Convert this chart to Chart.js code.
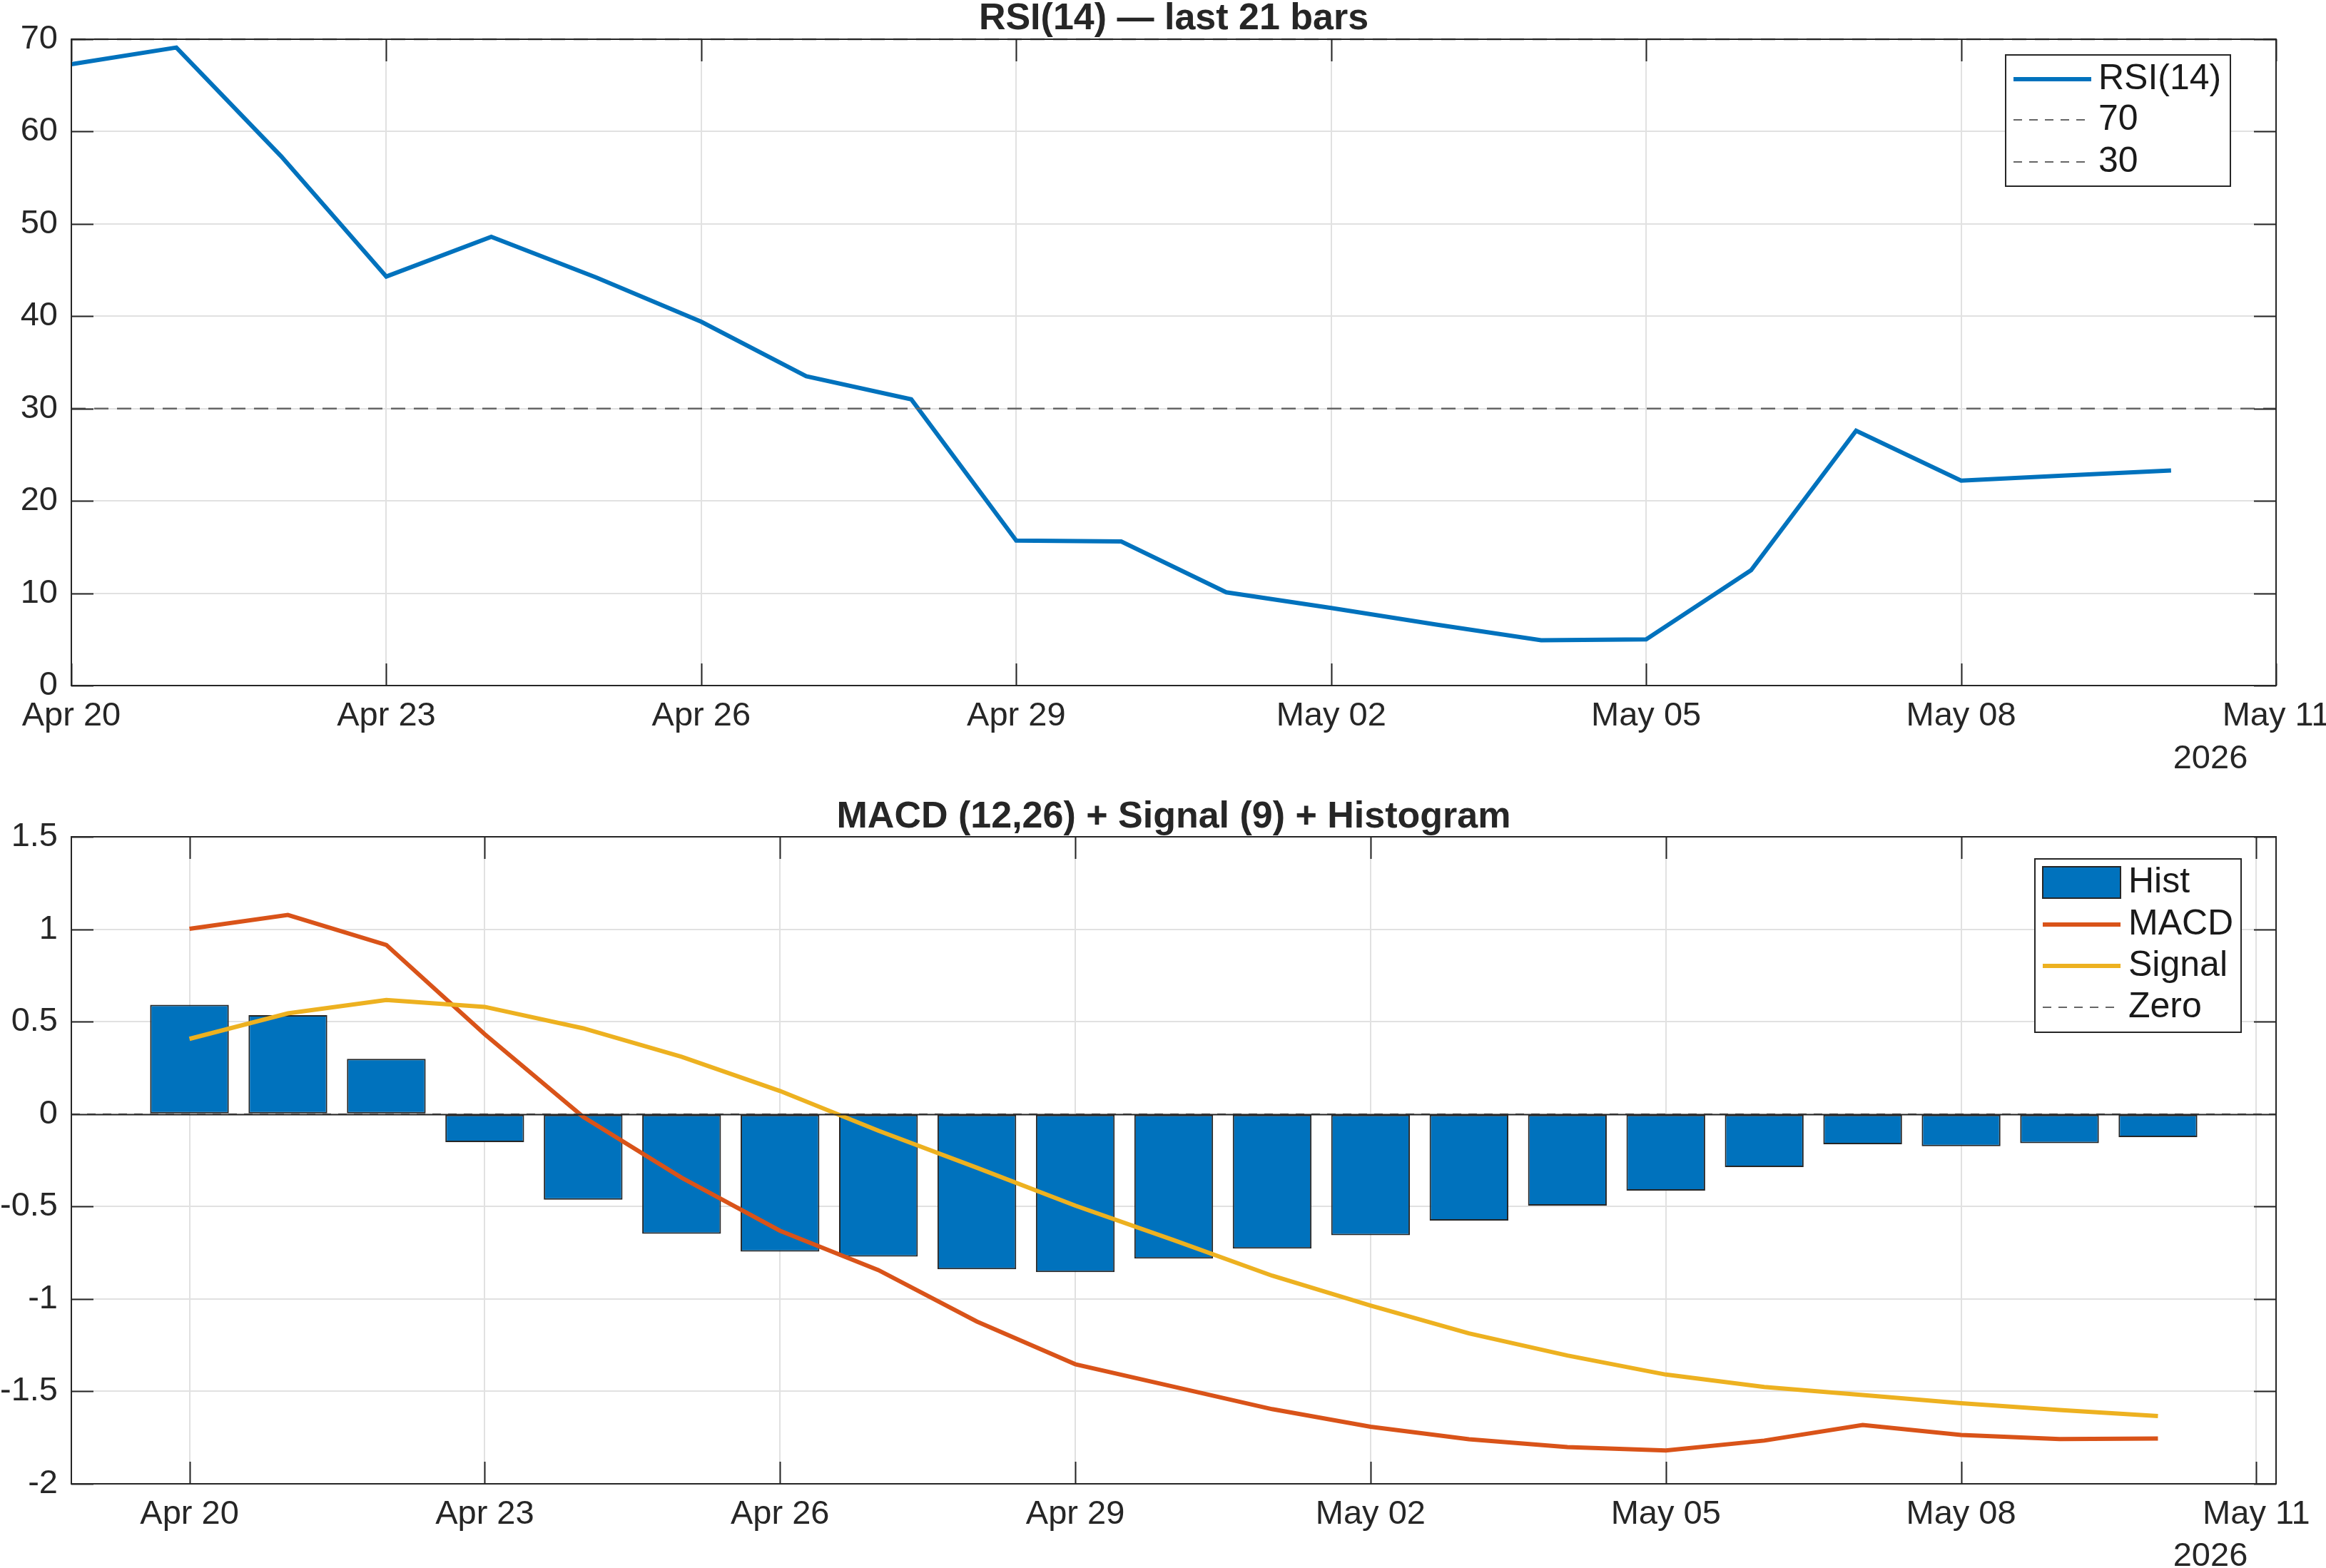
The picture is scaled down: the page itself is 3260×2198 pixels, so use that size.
<!DOCTYPE html>
<html>
<head>
<meta charset="utf-8">
<title>RSI / MACD</title>
<script src="https://cdn.jsdelivr.net/npm/chart.js@4.4.1/dist/chart.umd.min.js"></script>
<style>
  body { margin: 0; background: #fff; }
  canvas { position: absolute; left: 0; }
  #rsiChart { top: 0; }
  #macdChart { top: 1100px; }
</style>
</head>
<body>
<canvas id="rsiChart" width="3260" height="1100"></canvas>
<canvas id="macdChart" width="3260" height="1098"></canvas>
<script>
// ---- data (one entry per daily bar, Apr 20 .. May 10 2026) ----
const dates = ['Apr 20', 'Apr 21', 'Apr 22', 'Apr 23', 'Apr 24', 'Apr 25', 'Apr 26', 'Apr 27', 'Apr 28', 'Apr 29', 'Apr 30',
               'May 01', 'May 02', 'May 03', 'May 04', 'May 05', 'May 06', 'May 07', 'May 08', 'May 09', 'May 10'];
const tickDays = [0, 3, 6, 9, 12, 15, 18, 21];
const tickLabels = ['Apr 20', 'Apr 23', 'Apr 26', 'Apr 29', 'May 02', 'May 05', 'May 08', 'May 11'];
const yearLabel = '2026';

const rsiValues = [67.3, 69.1, 57.3, 44.3, 48.6, 44.2, 39.4, 33.5, 31.0, 15.7, 15.6,
                   10.1, 8.4, 6.6, 4.9, 5.0, 12.5, 27.6, 22.2, 22.75, 23.3];
const rsiLevels = [70, 30];
const rsiXRange = [0, 21];

const histValues = [0.591, 0.535, 0.299, -0.152, -0.463, -0.647, -0.744, -0.771, -0.839, -0.855, -0.782,
                    -0.728, -0.655, -0.576, -0.495, -0.414, -0.287, -0.163, -0.174, -0.157, -0.125];
const macdValues = [1.002, 1.077, 0.915, 0.432, -0.015, -0.344, -0.631, -0.844, -1.122, -1.353, -1.475,
                    -1.596, -1.691, -1.759, -1.801, -1.820, -1.766, -1.682, -1.736, -1.758, -1.755];
const signalValues = [0.407, 0.545, 0.617, 0.580, 0.464, 0.310, 0.125, -0.090, -0.290, -0.495, -0.682,
                      -0.874, -1.036, -1.186, -1.306, -1.409, -1.476, -1.520, -1.564, -1.601, -1.633];
const macdXRange = [-1.2, 21.2];

// ---- styling ----
const FONT = "'Liberation Sans', Arial, Helvetica, sans-serif";
const AXIS_COLOR = '#262626';
const GRID_COLOR = '#e1e1e1';
const BLUE = '#0072BD';
const ORANGE = '#D95319';
const YELLOW = '#EDB120';
const DASH_COLOR = '#666666';
const TICK_LEN = 31;

Chart.defaults.font.family = FONT;
Chart.defaults.color = AXIS_COLOR;

const toPoints = vals => vals.map((v, i) => ({ x: i, y: v }));
const hLine = (y, range) => [{ x: range[0], y: y }, { x: range[1], y: y }];

function fixAxis(width, height) {
    return scale => {
        if (width !== null) scale.width = width;
        if (height !== null) scale.height = height;
        scale.paddingLeft = 0; scale.paddingRight = 0;
        scale.paddingTop = 0; scale.paddingBottom = 0;
    };
}

function xScale(range, axisHeight) {
    return {
        type: 'linear',
        min: range[0],
        max: range[1],
        offset: false,
        afterBuildTicks: s => { s.ticks = tickDays.map(v => ({ value: v })); },
        afterFit: fixAxis(null, axisHeight),
        grid: { color: GRID_COLOR, lineWidth: 2, drawTicks: false, offset: false },
        border: { display: false },
        ticks: {
            autoSkip: false, maxRotation: 0, padding: 15,
            font: { size: 47 }, color: AXIS_COLOR,
            callback: (v, i) => tickLabels[i]
        }
    };
}

function yScale(min, max, step) {
    return {
        min: min, max: max,
        afterFit: fixAxis(100, null),
        grid: { color: GRID_COLOR, lineWidth: 2, drawTicks: false },
        border: { display: false },
        ticks: {
            stepSize: step, padding: 19,
            font: { size: 47 }, color: AXIS_COLOR,
            callback: v => String(Math.round(v * 10) / 10)
        }
    };
}

// axes box, inward ticks, bar baseline, title, year label, legend
const axesDecor = {
    id: 'axesDecor',
    afterDatasetsDraw(chart, args, opts) {
        const { ctx, chartArea: a, scales: { x, y } } = chart;
        ctx.save();
        ctx.strokeStyle = AXIS_COLOR;
        ctx.lineWidth = 2;
        ctx.beginPath();
        if (opts.baseline) {
            const py = Math.round(y.getPixelForValue(0)) + 0.5;
            ctx.moveTo(a.left, py);
            ctx.lineTo(a.right, py);
        }
        x.ticks.forEach(t => {
            const px = Math.round(x.getPixelForValue(t.value)) + 0.5;
            ctx.moveTo(px, a.bottom); ctx.lineTo(px, a.bottom - TICK_LEN);
            ctx.moveTo(px, a.top); ctx.lineTo(px, a.top + TICK_LEN);
        });
        y.ticks.forEach(t => {
            const py = Math.round(y.getPixelForValue(t.value)) + 0.5;
            ctx.moveTo(a.left, py); ctx.lineTo(a.left + TICK_LEN, py);
            ctx.moveTo(a.right, py); ctx.lineTo(a.right - TICK_LEN, py);
        });
        ctx.stroke();
        ctx.strokeRect(a.left, a.top, a.right - a.left, a.bottom - a.top);

        ctx.fillStyle = AXIS_COLOR;
        ctx.textAlign = 'center';
        ctx.textBaseline = 'alphabetic';
        ctx.font = 'bold 52px ' + FONT;
        ctx.fillText(opts.title, (a.left + a.right) / 2, opts.titleY);
        ctx.font = '47px ' + FONT;
        ctx.fillText(yearLabel, 3098, opts.yearY);

        // legend
        const lg = opts.legend;
        ctx.fillStyle = '#fff';
        ctx.fillRect(lg.box[0], lg.box[1], lg.box[2], lg.box[3]);
        ctx.strokeStyle = AXIS_COLOR;
        ctx.lineWidth = 2;
        ctx.strokeRect(lg.box[0], lg.box[1], lg.box[2], lg.box[3]);
        lg.items.forEach((it, i) => {
            const cy = lg.rows[i];
            ctx.save();
            if (it.kind === 'box') {
                ctx.fillStyle = it.color;
                ctx.fillRect(lg.sample[0], cy - 22, lg.sample[1] - lg.sample[0], 44);
                ctx.strokeStyle = AXIS_COLOR;
                ctx.lineWidth = 2;
                ctx.strokeRect(lg.sample[0], cy - 22, lg.sample[1] - lg.sample[0], 44);
            } else {
                ctx.strokeStyle = it.color;
                ctx.lineWidth = it.kind === 'dash' ? 2 : 6;
                if (it.kind === 'dash') ctx.setLineDash([12, 10]);
                ctx.beginPath();
                ctx.moveTo(lg.sample[0], cy);
                ctx.lineTo(lg.sample[1], cy);
                ctx.stroke();
            }
            ctx.restore();
            ctx.fillStyle = '#1a1a1a';
            ctx.font = '50px ' + FONT;
            ctx.textAlign = 'left';
            ctx.textBaseline = 'middle';
            ctx.fillText(it.label, lg.textX, cy);
        });
        ctx.restore();
    }
};

new Chart(document.getElementById('rsiChart'), {
    type: 'line',
    data: {
        datasets: [
            { label: '70', data: hLine(rsiLevels[0], rsiXRange), borderColor: DASH_COLOR, borderWidth: 2.5, borderDash: [20, 12], pointRadius: 0, order: 0 },
            { label: '30', data: hLine(rsiLevels[1], rsiXRange), borderColor: DASH_COLOR, borderWidth: 2.5, borderDash: [20, 12], pointRadius: 0, order: 0 },
            { label: 'RSI(14)', data: toPoints(rsiValues), borderColor: BLUE, borderWidth: 6, pointRadius: 0, tension: 0, order: 1 }
        ]
    },
    options: {
        responsive: false,
        animation: false,
        devicePixelRatio: 1,
        clip: false,
        layout: { padding: { left: 0, right: 70, top: 55, bottom: 0 } },
        scales: { x: xScale(rsiXRange, 139), y: yScale(0, 70, 10) },
        plugins: {
            legend: { display: false },
            tooltip: { enabled: false },
            axesDecor: {
                title: 'RSI(14) \u2014 last 21 bars', titleY: 41, yearY: 1077,
                legend: {
                    box: [2811, 77, 315, 184], sample: [2822, 2931], textX: 2941, rows: [111, 168, 227],
                    items: [
                        { label: 'RSI(14)', kind: 'line', color: BLUE },
                        { label: '70', kind: 'dash', color: DASH_COLOR },
                        { label: '30', kind: 'dash', color: DASH_COLOR }
                    ]
                }
            }
        }
    },
    plugins: [axesDecor]
});

new Chart(document.getElementById('macdChart'), {
    type: 'bar',
    data: {
        datasets: [
            { type: 'line', label: 'Zero', data: hLine(0, macdXRange), borderColor: DASH_COLOR, borderWidth: 2, borderDash: [12, 10], pointRadius: 0, order: 0 },
            { type: 'line', label: 'Signal', data: toPoints(signalValues), borderColor: YELLOW, borderWidth: 6, pointRadius: 0, tension: 0, order: 1 },
            { type: 'line', label: 'MACD', data: toPoints(macdValues), borderColor: ORANGE, borderWidth: 6, pointRadius: 0, tension: 0, order: 2 },
            { type: 'bar', label: 'Hist', data: toPoints(histValues), backgroundColor: BLUE, borderColor: AXIS_COLOR, borderWidth: 2,
              borderSkipped: false, barPercentage: 0.8, categoryPercentage: 1.0, order: 3 }
        ]
    },
    options: {
        responsive: false,
        animation: false,
        devicePixelRatio: 1,
        layout: { padding: { left: 0, right: 70, top: 73, bottom: 0 } },
        scales: { x: xScale(macdXRange, 118), y: yScale(-2, 1.5, 0.5) },
        plugins: {
            legend: { display: false },
            tooltip: { enabled: false },
            axesDecor: {
                baseline: true,
                title: 'MACD (12,26) + Signal (9) + Histogram', titleY: 60, yearY: 1095,
                legend: {
                    box: [2852, 104, 289, 243], sample: [2863, 2972], textX: 2983, rows: [137, 196, 254, 312],
                    items: [
                        { label: 'Hist', kind: 'box', color: BLUE },
                        { label: 'MACD', kind: 'line', color: ORANGE },
                        { label: 'Signal', kind: 'line', color: YELLOW },
                        { label: 'Zero', kind: 'dash', color: DASH_COLOR }
                    ]
                }
            }
        }
    },
    plugins: [axesDecor]
});
</script>
</body>
</html>
